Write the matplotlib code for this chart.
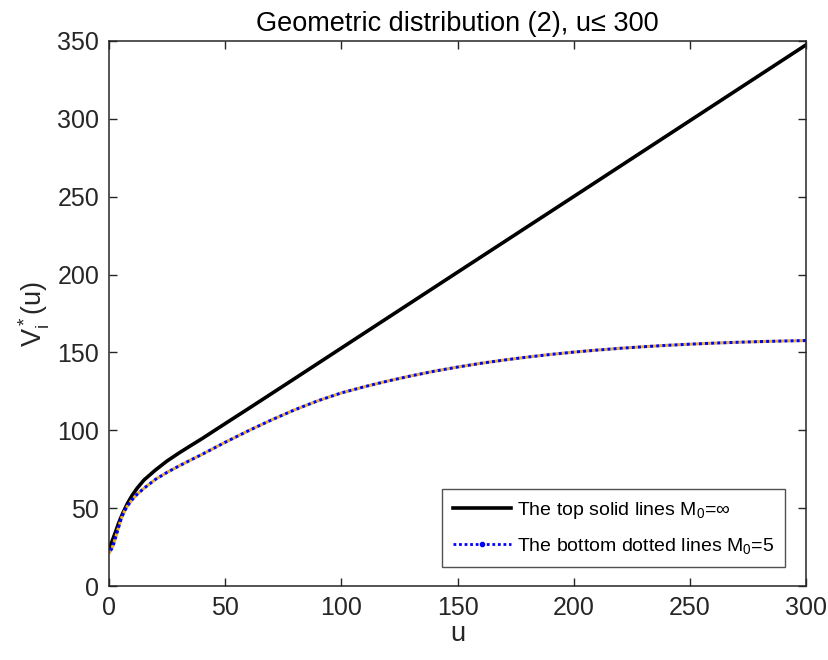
import numpy as np
import matplotlib.pyplot as plt
from matplotlib.lines import Line2D

plt.rcParams['font.family'] = ['Liberation Sans', 'DejaVu Sans']
plt.rcParams['mathtext.fontset'] = 'custom'
plt.rcParams['mathtext.rm'] = 'Liberation Sans'
plt.rcParams['mathtext.it'] = 'Liberation Sans'
plt.rcParams['mathtext.default'] = 'regular'

# values
u_top = [0, 1, 2, 3, 4, 5, 6, 8, 10, 12, 15, 20, 25, 30, 35, 40, 50, 60, 70, 80,
         100, 150, 200, 250, 300]
v_top = [24.2, 27.5, 31.5, 35.5, 39.8, 43.5, 47, 53.2, 58.3, 62.6, 68, 74.5, 80.3, 85.3,
         90.0, 94.6, 104.3, 113.9, 123.6, 133.3, 152.8, 201.5, 250.1, 298.8, 347.5]

u_bot = [0, 1, 2, 3, 4, 5, 6, 7, 8, 10, 12, 15, 20, 25, 30, 35, 40, 50, 60, 70, 80, 90,
         100, 110, 120, 130, 140, 150, 160, 170, 180, 190, 200, 210, 220, 230, 240,
         250, 260, 270, 280, 290, 300]
v_bot = [21, 23.5, 27, 32, 37, 42, 46, 49, 51.5, 55.5, 58.7, 62.7, 68.5, 73, 77, 80.8,
         84.5, 92.3, 99.7, 106.7, 113.2, 119.0, 124.0, 128.0, 131.65, 134.95, 137.95,
         140.6, 143.0, 145.1, 147.0, 148.7, 150.2, 151.5, 152.65, 153.65, 154.55, 155.3,
         155.95, 156.5, 156.95, 157.33, 157.63]

xticks = [0, 50, 100, 150, 200, 250, 300]
yticks = [0, 50, 100, 150, 200, 250, 300, 350]

dark = '#262626'

fig = plt.figure(figsize=(8.29, 6.6), dpi=100)
ax = fig.add_axes([0.1315, 0.1121, 0.8408, 0.8258])

# top lines (several curves overlap)
ax.plot(u_top, v_top, color='#edb120', lw=1.0)
ax.plot(u_top, v_top, color='black', lw=2.6)
# bottom dotted lines
ax.plot(u_bot, v_bot, color='#edb120', lw=2.2, linestyle=(0, (1, 1)))
ax.plot(u_bot, v_bot, color='#0000ff', lw=2.2, linestyle=(1, (1, 1)))

ax.set_xlim(0, 300)
ax.set_ylim(0, 350)
ax.set_xticks(xticks)
ax.set_yticks(yticks)
ax.tick_params(direction='in', length=6, width=1, colors=dark, labelsize=18,
               top=True, right=True, pad=7)
for s in ax.spines.values():
    s.set_color(dark)
    s.set_linewidth(1.1)

ax.set_title('Geometric distribution (2), u\u2264 300', fontsize=19.5, color='black', pad=7)
ax.set_xlabel('u', fontsize=19.5, color=dark, labelpad=1)
ax.set_ylabel('V$_i^*$(u)', fontsize=19.5, color=dark, labelpad=4)

handles = [
    Line2D([], [], color='black', lw=2.6),
    Line2D([], [], color='#0000ff', lw=2, linestyle=(0, (1, 1)), marker='.', markersize=6),
]
labels = ['The top solid lines M$_0$=\u221e', 'The bottom dotted lines M$_0$=5']
leg = ax.legend(handles, labels, loc='lower right', bbox_to_anchor=(0.97, 0.035),
                fontsize=14, frameon=True, fancybox=False, edgecolor=dark,
                handlelength=3.0, handletextpad=0.3, borderpad=0.55, labelspacing=0.8,
                markerscale=1, numpoints=1, borderaxespad=0)
leg.get_frame().set_linewidth(1.0)

fig.savefig('out.png', dpi=100)
